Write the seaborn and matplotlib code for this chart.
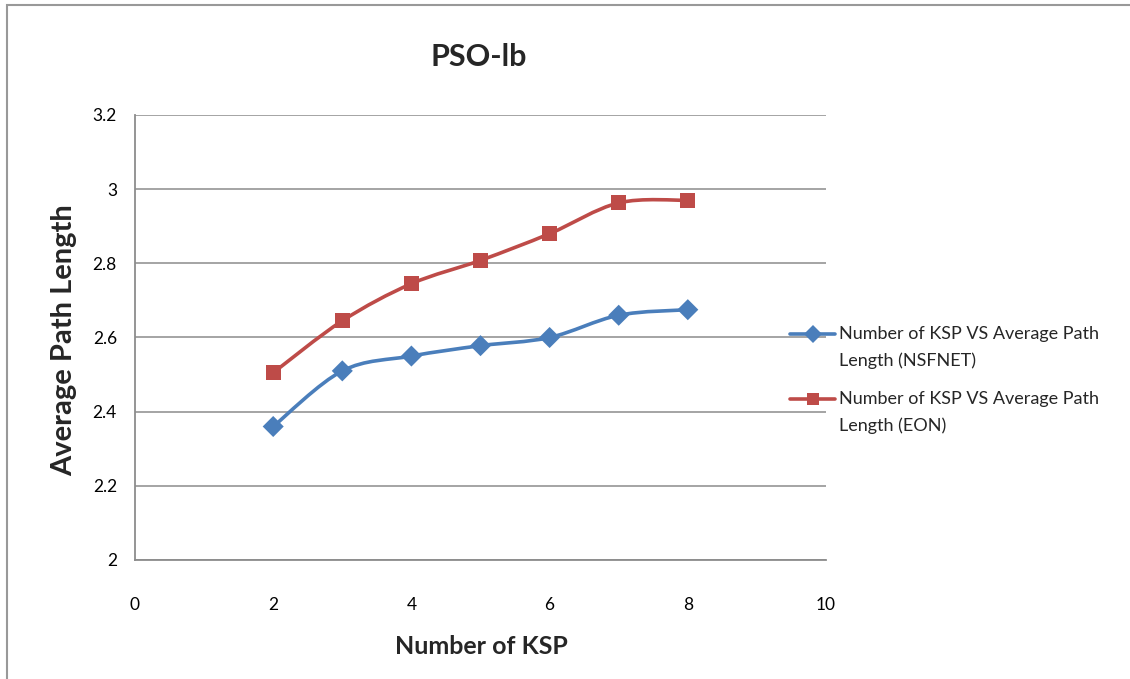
import numpy as np
import pandas as pd
import seaborn as sns
import matplotlib
matplotlib.use("Agg")
import matplotlib.pyplot as plt
from matplotlib.path import Path
from matplotlib.patches import PathPatch, Rectangle
from matplotlib.lines import Line2D
from matplotlib.legend_handler import HandlerLine2D

# ---------------- data ----------------
ksp = [2, 3, 4, 5, 6, 7, 8]
nsfnet = [2.36, 2.51, 2.55, 2.578, 2.60, 2.66, 2.675]
eon = [2.505, 2.645, 2.745, 2.808, 2.88, 2.963, 2.97]
series_labels = ["Number of KSP VS Average Path\nLength (NSFNET)",
                 "Number of KSP VS Average Path\nLength (EON)"]
x_ticks = [0, 2, 4, 6, 8, 10]
y_ticks = [2, 2.2, 2.4, 2.6, 2.8, 3, 3.2]
y_tick_labels = ["2", "2.2", "2.4", "2.6", "2.8", "3", "3.2"]
title = "PSO-lb"
x_label = "Number of KSP"
y_label = "Average Path Length"

colors = ["#4A7EBB", "#BE4B48"]
markers = ["D", "s"]

df = pd.DataFrame({
    "ksp": ksp * 2,
    "value": nsfnet + eon,
    "series": [series_labels[0]] * len(ksp) + [series_labels[1]] * len(ksp),
})

sns.set_theme(style="white")
plt.rcParams["font.family"] = ["Lato", "DejaVu Sans"]

W, H = 1130, 679
fig = plt.figure(figsize=(W / 100, H / 100), dpi=100)
ax = fig.add_axes([135 / W, 1 - 560 / H, (826 - 135) / W, (560 - 115) / H])

grid_c = "#8C8C8C"


def smooth_path(xs, ys):
    # Excel-style smoothed line (cubic Bezier, 1/6 tangents)
    pts = np.column_stack([xs, ys]).astype(float)
    n = len(pts)
    verts = [pts[0]]
    codes = [Path.MOVETO]
    for i in range(n - 1):
        p0 = pts[i - 1] if i > 0 else pts[i]
        p1 = pts[i]
        p2 = pts[i + 1]
        p3 = pts[i + 2] if i + 2 < n else pts[i + 1]
        c1 = p1 + (p2 - p0) / 6.0
        c2 = p2 - (p3 - p1) / 6.0
        verts += [c1, c2, p2]
        codes += [Path.CURVE4] * 3
    return Path(verts, codes)


for ys, c in zip([nsfnet, eon], colors):
    ax.add_patch(PathPatch(smooth_path(ksp, ys), facecolor="none", edgecolor=c,
                           lw=2.6, zorder=3, capstyle="round", joinstyle="round"))

sns.scatterplot(data=df, x="ksp", y="value", hue="series", style="series",
                palette=colors, markers=markers, s=115, edgecolor="none",
                legend=False, ax=ax, zorder=4)

ax.set_xlim(0, 10)
ax.set_ylim(2, 3.2)
ax.set_xticks(x_ticks)
ax.set_xticklabels([str(t) for t in x_ticks])
ax.set_yticks(y_ticks)
ax.set_yticklabels(y_tick_labels)
ax.yaxis.grid(True, color=grid_c, lw=1.1)
ax.xaxis.grid(False)
for s in ["top", "right"]:
    ax.spines[s].set_visible(False)
for s in ["left", "bottom"]:
    ax.spines[s].set_color(grid_c)
    ax.spines[s].set_linewidth(1.3)
ax.tick_params(axis="both", which="major", direction="out", color=grid_c,
               width=1.3, labelsize=12.5, labelcolor="black")
ax.tick_params(axis="x", length=7, pad=20)
ax.tick_params(axis="y", length=5, pad=8)
ax.set_xlabel("")
ax.set_ylabel("")

fig.text(479 / W, 1 - 57 / H, title, ha="center", va="center",
         fontsize=22, fontweight="bold")
fig.text(481 / W, 1 - 647 / H, x_label, ha="center", va="center",
         fontsize=18, fontweight="bold")
fig.text(64 / W, 1 - 340 / H, y_label, ha="center", va="center",
         fontsize=21, fontweight="bold", rotation=90)


class ShiftedHandler(HandlerLine2D):
    def __init__(self, dy, **kw):
        super().__init__(**kw)
        self.dy = dy

    def create_artists(self, legend, orig_handle, xdescent, ydescent,
                       width, height, fontsize, trans):
        arts = super().create_artists(legend, orig_handle, xdescent, ydescent,
                                      width, height, fontsize, trans)
        for a in arts:
            a.set_ydata(np.asarray(a.get_ydata(), dtype=float) + self.dy)
        return arts


handles = [Line2D([0], [0], color=c, lw=2.6, marker=m, markersize=9,
                  markeredgewidth=0) for c, m in zip(colors, markers)]
leg = fig.legend(handles, series_labels, loc="upper left",
                 bbox_to_anchor=(790 / W, 1 - 326 / H), frameon=False,
                 fontsize=13, handlelength=2.5, handletextpad=0.2,
                 labelspacing=1.2, borderaxespad=0, borderpad=0,
                 handler_map={Line2D: ShiftedHandler(10.3)})
for t in leg.get_texts():
    t.set_linespacing(1.8)

fig.patches.append(Rectangle((7 / W, -0.1), 1.2, (1 - 5 / H) + 0.1,
                             transform=fig.transFigure, fill=False,
                             edgecolor="#999999", lw=1.5))

fig.savefig("out.png", dpi=100)
